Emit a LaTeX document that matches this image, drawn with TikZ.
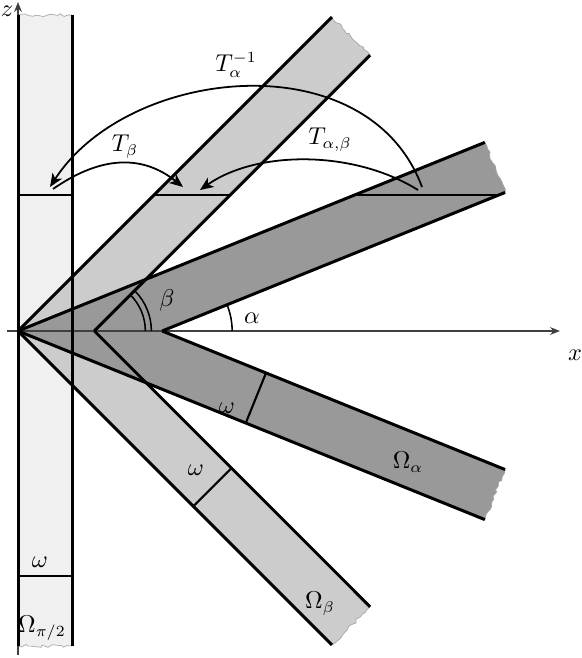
\documentclass[tikz,border=0pt]{standalone}
\usetikzlibrary{arrows.meta,decorations.pathmorphing,calc}
\begin{document}
\begin{tikzpicture}[x=0.45pt,y=0.45pt,
  edge/.style={line width=1.35pt},
  torn/.style={decorate,decoration={random steps,segment length=1.6pt,amplitude=0.7pt}},
  tornline/.style={draw=gray!70,line width=0.3pt},
  cutline/.style={line width=1.2pt},
  wline/.style={line width=0.95pt},
  anglearc/.style={line width=0.7pt},
  axis/.style={line width=0.8pt,black!75,-{Stealth[length=4.5pt,width=3.5pt]}},
  arr/.style={line width=0.8pt,-{Stealth[length=6pt,width=5pt,inset=1.6pt]}},
  lab/.style={inner sep=1pt,font=\fontsize{10.5}{12}\selectfont}]
\useasboundingbox (-18,-327) rectangle (563,331);
% key points
\coordinate (O) at (0,0);
\coordinate (Va) at (144.15,0);
\coordinate (Vb) at (76.37,0);
\coordinate (Aou) at (22:503.5);
\coordinate (Aiu) at ($(Aou)+(-68:54)$);
\coordinate (Aol) at (-22:503.5);
\coordinate (Ail) at ($(Aol)+(68:54)$);
\coordinate (Bou) at (45:444);
\coordinate (Biu) at ($(Bou)+(-45:54)$);
\coordinate (Bol) at (-45:444);
\coordinate (Bil) at ($(Bol)+(45:54)$);
\coordinate (P1) at (0,316);
\coordinate (P2) at (54,316);
\coordinate (P3) at (54,-315);
\coordinate (P4) at (0,-315);
% fills
\pgfmathsetseed{3}
\filldraw[fill=gray!12,tornline] (P4) -- (P1) decorate[torn]{-- (P2)} -- (P3) decorate[torn]{-- (P4)};
\filldraw[fill=gray!40,tornline] (O) -- (Bou) decorate[torn]{-- (Biu)} -- (Vb) -- (Bil) decorate[torn]{-- (Bol)} -- cycle;
\filldraw[fill=gray!80,tornline] (O) -- (Aou) decorate[torn]{-- (Aiu)} -- (Va) -- (Ail) decorate[torn]{-- (Aol)} -- cycle;
% axes
\coordinate (xs) at (-11,0);
\coordinate (xe) at (542,0);
\coordinate (zs) at (0,-324);
\coordinate (ze) at (0,329);
\draw[axis] (xs) -- (xe);
\draw[axis] (zs) -- (ze);
% strip edges
\draw[edge] (P4) -- (P1);
\draw[edge] (P2) -- (P3);
\draw[edge] (O) -- (Bou);
\draw[edge] (Vb) -- (Biu);
\draw[edge] (O) -- (Bol);
\draw[edge] (Vb) -- (Bil);
\draw[edge] (O) -- (Aou);
\draw[edge] (Va) -- (Aiu);
\draw[edge] (O) -- (Aol);
\draw[edge] (Va) -- (Ail);
% cuts at height h
\coordinate (h1) at (0,136);
\coordinate (h2) at (54,136);
\coordinate (h3) at (136,136);
\coordinate (h4) at (212.4,136);
\coordinate (h5) at (336.6,136);
\coordinate (h6) at (480.8,136);
\draw[cutline] (h1) -- (h2);
\draw[cutline] (h3) -- (h4);
\draw[cutline] (h5) -- (h6);
% omega segments
\coordinate (w1) at (0,-245);
\coordinate (w2) at (54,-245);
\coordinate (w3) at ($(Vb)+(-45:194)$);
\coordinate (w4) at ($(w3)+(-135:54)$);
\coordinate (w5) at ($(Va)+(-22:112)$);
\coordinate (w6) at ($(w5)+(-112:54)$);
\draw[wline] (w1) -- (w2);
\draw[wline] (w3) -- (w4);
\draw[wline] (w5) -- (w6);
% angle arcs
\draw[anglearc] ($(Vb)+(51,0)$) arc (0:45:51);
\draw[anglearc] ($(Vb)+(57,0)$) arc (0:45:57);
\draw[anglearc] ($(Va)+(70,0)$) arc (0:22:70);
% transfer arrows
\coordinate (ta1) at (404,144);
\coordinate (ta2) at (32,144);
\coordinate (tb1) at (35,142);
\coordinate (tb2) at (165,144);
\coordinate (tab1) at (400,141);
\coordinate (tab2) at (182,141);
\draw[arr] (ta1) .. controls (350,290) and (110,265) .. (ta2);
\draw[arr] (tb1) .. controls (84,176) and (125,176) .. (tb2);
\draw[arr] (tab1) .. controls (336,181) and (239,181) .. (tab2);
% labels
\node[lab] (lx) at (557,-24) {$x$};
\node[lab] (lz) at (-11,320) {$z$};
\node[lab] (lOa) at (390,-131) {$\Omega_\alpha$};
\node[lab] (lOb) at (302,-273) {$\Omega_\beta$};
\node[lab] (lOp) at (24,-297) {$\Omega_{\pi/2}$};
\node[lab] (lw1) at (22,-231) {$\omega$};
\node[lab] (lw2) at (178,-139) {$\omega$};
\node[lab] (lw3) at (209,-77) {$\omega$};
\node[lab] (lb) at (149,31) {$\beta$};
\node[lab] (la) at (234,13) {$\alpha$};
\node[lab] (lTa) at (218,266) {$T_\alpha^{-1}$};
\node[lab] (lTb) at (107,184) {$T_\beta$};
\node[lab] (lTab) at (312,191) {$T_{\alpha,\beta}$};
\end{tikzpicture}
\end{document}
